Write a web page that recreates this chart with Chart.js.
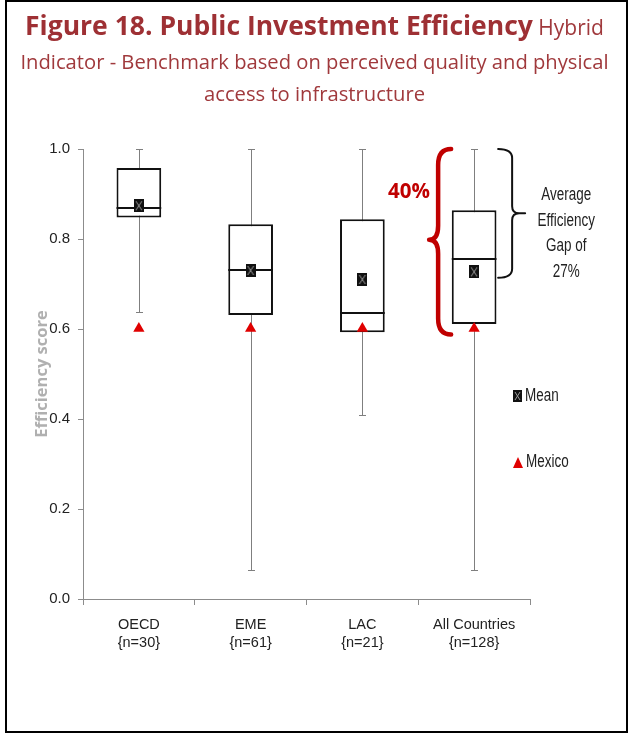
<!DOCTYPE html>
<html><head><meta charset="utf-8">
<script src="https://cdn.jsdelivr.net/npm/chart.js@4"></script>
<style>
html,body{margin:0;padding:0;background:#fff;}
#wrap{position:relative;width:629px;height:734px;overflow:hidden;}
#frame{position:absolute;left:5px;top:0;width:623px;height:733px;border:2px solid #000;box-sizing:border-box;pointer-events:none;}
#c{position:absolute;left:0;top:0;}
.t{position:absolute;left:0;width:629px;text-align:center;color:#A0393C;font-family:"Open Sans",sans-serif;white-space:nowrap;}
.t b{font-weight:700;color:#9E3034;}
.ann{position:absolute;font-family:"Liberation Sans",sans-serif;color:#222;white-space:nowrap;}
.sq{display:inline-block;transform:scaleX(0.77);transform-origin:left center;}
</style></head>
<body><div id="wrap">
<canvas id="c" width="629" height="734"></canvas>
<div class="t" style="top:6px;height:38px;line-height:38px;font-size:21px;"><b style="font-size:26.5px;">Figure 18. Public Investment Efficiency</b> Hybrid</div>
<div class="t" style="top:45px;height:32px;line-height:32px;font-size:20.2px;">Indicator - Benchmark based on perceived quality and physical</div>
<div class="t" style="top:77px;height:32px;line-height:32px;font-size:20.2px;">access to infrastructure</div>
<div class="ann" style="left:388px;top:176px;font-family:'Open Sans',sans-serif;font-weight:700;font-size:20.5px;color:#C00000;line-height:28px;">40%</div>
<div class="ann" style="left:526px;top:182px;width:80px;text-align:center;font-size:17.5px;line-height:25.7px;"><span style="display:inline-block;transform:scaleX(0.77);">Average<br>Efficiency<br>Gap of<br>27%</span></div>
<div class="ann" style="left:513px;top:384px;font-size:17.5px;line-height:22px;"><canvas id="lgMean" width="9" height="12" style="vertical-align:-1px;margin-right:3px;"></canvas><span class="sq">Mean</span></div>
<div class="ann" style="left:513px;top:450px;font-size:17.5px;line-height:22px;"><canvas id="lgMex" width="10" height="11" style="vertical-align:-1px;margin-right:3px;"></canvas><span class="sq">Mexico</span></div>
<div id="frame"></div>
</div>
<script>
// ---- data ----
const categories = [["OECD","{n=30}"],["EME","{n=61}"],["LAC","{n=21}"],["All Countries","{n=128}"]];
const whiskerMax = [1.0, 1.0, 1.0, 1.0];
const q3 = [0.958, 0.833, 0.844, 0.864];
const median = [0.869, 0.732, 0.636, 0.755];
const q1 = [0.848, 0.631, 0.593, 0.611];
const whiskerMin = [0.638, 0.064, 0.410, 0.064];
const meanVals = [0.874, 0.730, 0.710, 0.727];
const mexicoVals = [0.601, 0.601, 0.601, 0.601];
const yTicks = [0, 0.2, 0.4, 0.6, 0.8, 1.0];
// annotation ranges (value units)
const braceRange = [1.0, 0.588];
const bracketRange = [1.0, 0.714];

const sans = '"Liberation Sans",sans-serif';

function meanMarker(w,h){
  const c=document.createElement('canvas'); c.width=w; c.height=h;
  const g=c.getContext('2d'); g.fillStyle='#111'; g.fillRect(0,0,w,h);
  g.strokeStyle='#9a9a9a'; g.lineWidth=1; g.beginPath();
  g.moveTo(2,2); g.lineTo(w-2,h-2); g.moveTo(w-2,2); g.lineTo(2,h-2); g.stroke();
  return c;
}
const meanImg = meanMarker(10,13);
(function(){
  const a=document.getElementById('lgMean').getContext('2d');
  a.drawImage(meanMarker(9,12),0,0);
  const b=document.getElementById('lgMex').getContext('2d');
  b.fillStyle='#E00000'; b.beginPath(); b.moveTo(5,0); b.lineTo(10,11); b.lineTo(0,11); b.closePath(); b.fill();
})();

const boxPlugin = {
  id:'boxExtras',
  beforeDatasetsDraw(chart){
    const {ctx, scales:{x,y}} = chart;
    ctx.save(); ctx.strokeStyle='#7f7f7f'; ctx.lineWidth=1;
    categories.forEach((c,i)=>{
      const px=Math.round(x.getPixelForValue(i))+0.5;
      const t=Math.round(y.getPixelForValue(whiskerMax[i]))+0.5;
      const b=Math.round(y.getPixelForValue(whiskerMin[i]))+0.5;
      ctx.beginPath();
      ctx.moveTo(px,t); ctx.lineTo(px,b);
      ctx.moveTo(px-3.5,t); ctx.lineTo(px+3.5,t);
      ctx.moveTo(px-3.5,b); ctx.lineTo(px+3.5,b);
      ctx.stroke();
    });
    ctx.restore();
  },
  afterDatasetDraw(chart,args){
    if(args.index!==0) return;
    const {ctx, scales:{y}} = chart;
    const meta=chart.getDatasetMeta(0);
    ctx.save(); ctx.strokeStyle='#111'; ctx.lineWidth=2;
    meta.data.forEach((bar,i)=>{
      const yy=Math.round(y.getPixelForValue(median[i]));
      ctx.beginPath(); ctx.moveTo(bar.x-bar.width/2,yy); ctx.lineTo(bar.x+bar.width/2,yy); ctx.stroke();
    });
    ctx.restore();
  },
  afterDraw(chart){
    const {ctx, scales:{x,y}} = chart;
    const cx=x.getPixelForValue(3);
    let top=y.getPixelForValue(braceRange[0]), bot=y.getPixelForValue(braceRange[1]);
    let xe=cx-23, xs=cx-36, xt=cx-45, ym=(top+bot)/2-2;
    ctx.save();
    ctx.strokeStyle='#C00000'; ctx.lineCap='round'; ctx.lineJoin='round';
    ctx.lineWidth=4.5;
    ctx.beginPath();
    ctx.moveTo(xe,top);
    ctx.quadraticCurveTo(xs,top,xs,top+16);
    ctx.lineTo(xs,ym-14);
    ctx.quadraticCurveTo(xs,ym,xt,ym);
    ctx.quadraticCurveTo(xs,ym,xs,ym+14);
    ctx.lineTo(xs,bot-16);
    ctx.quadraticCurveTo(xs,bot,xe,bot);
    ctx.stroke();
    top=y.getPixelForValue(bracketRange[0]); bot=y.getPixelForValue(bracketRange[1]);
    const xl=cx+24, xs2=cx+38, xt2=cx+51; ym=(top+bot)/2;
    ctx.strokeStyle='#111'; ctx.lineWidth=2;
    ctx.beginPath();
    ctx.moveTo(xl,top);
    ctx.quadraticCurveTo(xs2,top,xs2,top+9);
    ctx.lineTo(xs2,ym-7);
    ctx.quadraticCurveTo(xs2,ym,xs2+7,ym);
    ctx.lineTo(xt2,ym);
    ctx.moveTo(xs2+7,ym);
    ctx.quadraticCurveTo(xs2,ym,xs2,ym+7);
    ctx.lineTo(xs2,bot-9);
    ctx.quadraticCurveTo(xs2,bot,xl,bot);
    ctx.stroke();
    ctx.restore();
  }
};

new Chart(document.getElementById('c'),{
  type:'bar',
  data:{
    labels:categories,
    datasets:[
      {type:'bar',label:'Box',data:q1.map((v,i)=>[v,q3[i]]),backgroundColor:'#fff',borderColor:'#111',borderWidth:2,borderSkipped:false,barPercentage:0.4,categoryPercentage:1,order:2},
      {type:'line',label:'Mean',data:meanVals,showLine:false,pointStyle:meanImg,pointRadius:6,order:1},
      {type:'line',label:'Mexico',data:mexicoVals,showLine:false,pointStyle:'triangle',pointRadius:6.5,backgroundColor:'#E00000',borderColor:'#E00000',borderWidth:0,order:0}
    ]
  },
  options:{
    responsive:false,animation:false,
    layout:{padding:{left:0,right:99,top:149,bottom:0}},
    plugins:{legend:{display:false},tooltip:{enabled:false},title:{display:false}},
    scales:{
      x:{
        grid:{offset:true,drawOnChartArea:false,drawTicks:true,tickLength:6,color:'#8c8c8c'},
        border:{color:'#8c8c8c',width:1},
        ticks:{font:{family:sans,size:14.5,lineHeight:1.25},color:'#222',padding:11,maxRotation:0,autoSkip:false},
        afterFit(s){s.height=135;}
      },
      y:{
        min:0,max:1,
        afterBuildTicks(s){s.ticks=yTicks.map(v=>({value:v}));},
        grid:{drawOnChartArea:false,drawTicks:true,tickLength:5,color:'#8c8c8c'},
        border:{color:'#8c8c8c',width:1},
        ticks:{font:{family:sans,size:15},color:'#222',padding:8,callback:v=>v.toFixed(1)},
        title:{display:true,text:'Efficiency score',color:'#b0b0b0',font:{family:'"Open Sans",sans-serif',size:16.5,weight:'bold'},padding:{top:32,bottom:0}},
        afterFit(s){s.width=83;}
      }
    }
  },
  plugins:[boxPlugin]
});
</script>
</body></html>
